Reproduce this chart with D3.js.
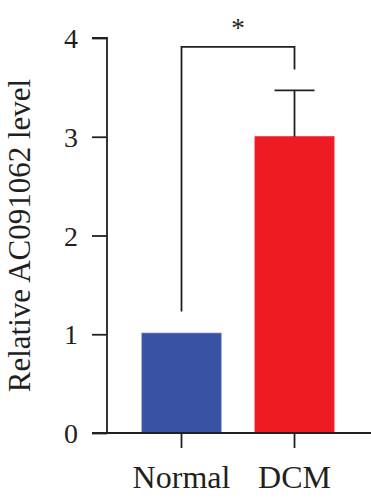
<!DOCTYPE html>
<html><head><meta charset="utf-8">
<script src="https://cdn.jsdelivr.net/npm/d3@7"></script>
<style>body{margin:0;background:#fff}svg{display:block}</style>
</head><body>
<script>
const categories = ["Normal", "DCM"];
const values = [1.01, 3.0];
const errors = [0, 0.47];
const colors = ["#3A52A3", "#ED1C24"];
const yTicks = [0, 1, 2, 3, 4];
const yTitle = "Relative AC091062 level";
const sigLabel = "*";
const sigLegTops = [1.23, 3.68];
const sigTop = 3.91;

const W = 371, H = 500;
const svg = d3.select("body").append("svg").attr("width", W).attr("height", H);
const ink = "#231F20";
const font = "'Liberation Serif','Times New Roman',serif";

const y = d3.scaleLinear().domain([0, 4]).range([433, 38]);
const x = d3.scaleBand().domain(categories).range([108.1, 367.9]).paddingInner(0.301).paddingOuter(0.3);
const axisX = 107;

// bars
svg.selectAll("rect.bar").data(categories).join("rect")
  .attr("x", d => x(d)).attr("width", x.bandwidth())
  .attr("y", (d, i) => y(values[i])).attr("height", (d, i) => y(0) - y(values[i]))
  .attr("fill", (d, i) => colors[i])
  .attr("stroke", (d, i) => d3.color(colors[i]).brighter(0.5))
  .attr("stroke-width", 1);

// error bars
categories.forEach((c, i) => {
  if (!errors[i]) return;
  const cx = x(c) + x.bandwidth() / 2;
  svg.append("line").attr("x1", cx).attr("x2", cx).attr("y1", y(values[i])).attr("y2", y(values[i] + errors[i]))
    .attr("stroke", ink).attr("stroke-width", 1.8);
  svg.append("line").attr("x1", cx - 20).attr("x2", cx + 20).attr("y1", y(values[i] + errors[i])).attr("y2", y(values[i] + errors[i]))
    .attr("stroke", ink).attr("stroke-width", 1.8);
});

// significance bracket
const c0 = x(categories[0]) + x.bandwidth() / 2, c1 = x(categories[1]) + x.bandwidth() / 2;
svg.append("path")
  .attr("d", `M${c0},${y(sigLegTops[0])}V${y(sigTop)}H${c1}V${y(sigLegTops[1])}`)
  .attr("fill", "none").attr("stroke", ink).attr("stroke-width", 1.8);
svg.append("text").attr("x", (c0 + c1) / 2).attr("y", 37).attr("text-anchor", "middle")
  .attr("font-family", font).attr("font-size", 27).attr("fill", ink).text(sigLabel);

// y axis
const yAxis = svg.append("g").attr("transform", `translate(${axisX},0)`)
  .call(d3.axisLeft(y).tickValues(yTicks).tickFormat(d3.format("d")).tickSize(15).tickPadding(14));
yAxis.select(".domain").attr("d", `M-15,${y(4)}H0V${y(0)}`);
yAxis.selectAll("line, path").attr("stroke", ink).attr("stroke-width", 1.8);
yAxis.selectAll("text").attr("font-family", font).attr("font-size", 28).attr("fill", ink).attr("dy", "0.34em");

// x axis
const xAxis = svg.append("g").attr("transform", `translate(0,${y(0)})`)
  .call(d3.axisBottom(x).tickSize(15).tickPadding(17));
xAxis.select(".domain").attr("d", `M92,0H${W}`);
xAxis.selectAll("line, path").attr("stroke", ink).attr("stroke-width", 1.8);
xAxis.selectAll("text").attr("font-family", font).attr("font-size", 32).attr("fill", ink);

// y title
svg.append("text").attr("transform", `translate(30,${(y(0) + y(4)) / 2}) rotate(-90)`)
  .attr("text-anchor", "middle").attr("font-family", font).attr("font-size", 31).attr("fill", ink)
  .text(yTitle);
</script>
</body></html>
